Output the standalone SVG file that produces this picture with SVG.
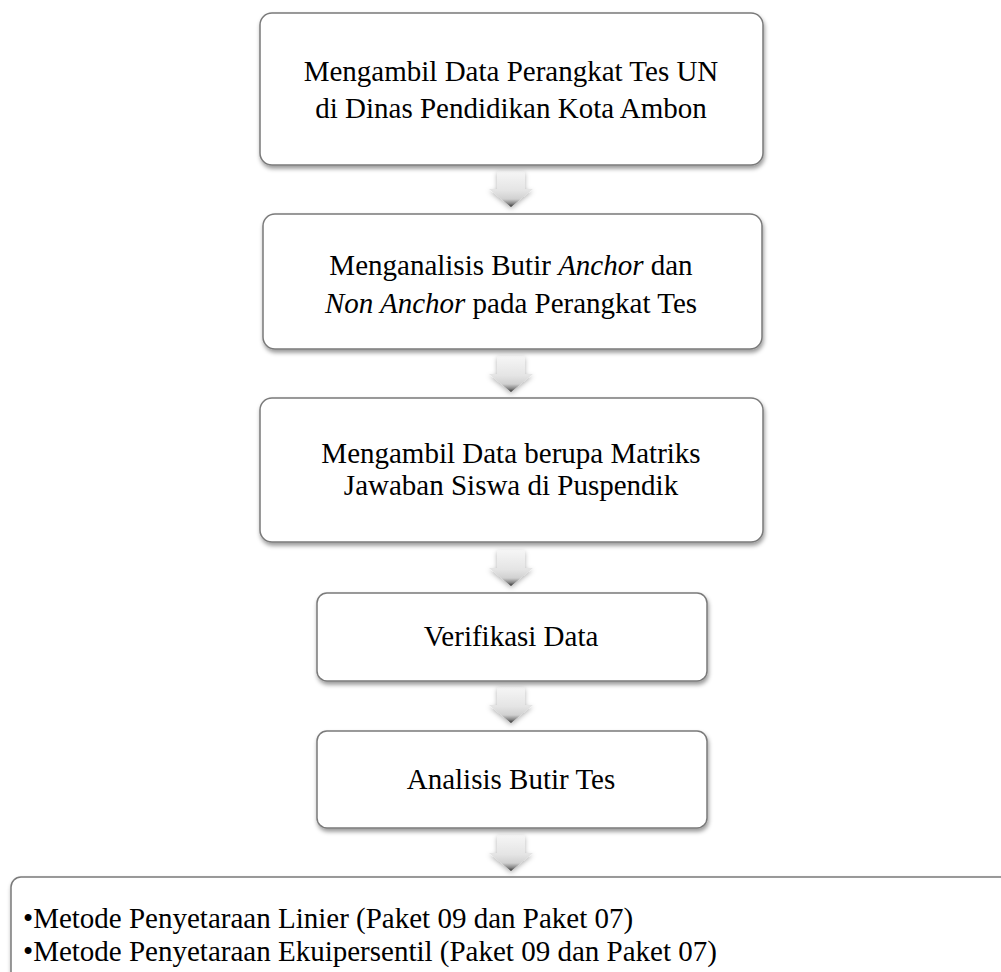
<svg xmlns="http://www.w3.org/2000/svg" width="1001" height="972" viewBox="0 0 1001 972">
<style>
.box{fill:#fff;stroke:#7a7a7a;stroke-width:1.5;filter:url(#sh)}
.t{font-family:"Liberation Serif","Times New Roman",serif;font-size:29px;fill:#000}
.c{text-anchor:middle}
.i{font-style:italic}
.arrow{fill:url(#ag);filter:url(#ash)}
</style>
<defs>
<filter id="sh" x="-5%" y="-10%" width="115%" height="130%">
<feDropShadow dx="1" dy="3" stdDeviation="2" flood-color="#000" flood-opacity="0.4"/>
</filter>
<filter id="ash" x="-50%" y="-30%" width="200%" height="170%">
<feDropShadow dx="0" dy="2" stdDeviation="2.5" flood-color="#000" flood-opacity="0.3"/>
</filter>
<linearGradient id="ag" x1="0" y1="0" x2="0" y2="1">
<stop offset="0" stop-color="#f6f6f6"/>
<stop offset="0.55" stop-color="#e4e4e4"/>
<stop offset="0.78" stop-color="#d0d0d0"/>
<stop offset="0.9" stop-color="#888"/>
<stop offset="1" stop-color="#333"/>
</linearGradient>
<path id="arr" d="M-14,0 H14 V18 H22 L0,36 L-22,18 H-14 Z"/>
</defs>

<g id="connectors">
<use href="#arr" class="arrow" x="511" y="171"/>
<use href="#arr" class="arrow" x="511" y="356"/>
<use href="#arr" class="arrow" x="511" y="550"/>
<use href="#arr" class="arrow" x="511" y="687"/>
<use href="#arr" class="arrow" x="511" y="835"/>
</g>

<g id="n1">
<rect class="box" x="260" y="13" width="503" height="152" rx="12"/>
<text class="t c" x="511" y="81">Mengambil Data Perangkat Tes UN</text>
<text class="t c" x="511" y="118">di Dinas Pendidikan Kota Ambon</text>
</g>

<g id="n2">
<rect class="box" x="263" y="214" width="499" height="135" rx="12"/>
<text class="t c" x="511" y="275">Menganalisis Butir <tspan class="i">Anchor</tspan> dan</text>
<text class="t c" x="511" y="313"><tspan class="i">Non Anchor</tspan> pada Perangkat Tes</text>
</g>

<g id="n3">
<rect class="box" x="260" y="398" width="503" height="144" rx="12"/>
<text class="t c" x="511" y="463">Mengambil Data berupa Matriks</text>
<text class="t c" x="511" y="495">Jawaban Siswa di Puspendik</text>
</g>

<g id="n4">
<rect class="box" x="317" y="593" width="390" height="88" rx="10"/>
<text class="t c" x="511" y="646">Verifikasi Data</text>
</g>

<g id="n5">
<rect class="box" x="317" y="731" width="390" height="97" rx="10"/>
<text class="t c" x="511" y="789">Analisis Butir Tes</text>
</g>

<g id="n6">
<rect class="box" x="11" y="877" width="1100" height="200" rx="10"/>
<text class="t" x="23" y="928">•Metode Penyetaraan Linier (Paket 09 dan Paket 07)</text>
<text class="t" x="23" y="961">•Metode Penyetaraan Ekuipersentil (Paket 09 dan Paket 07)</text>
</g>
</svg>
